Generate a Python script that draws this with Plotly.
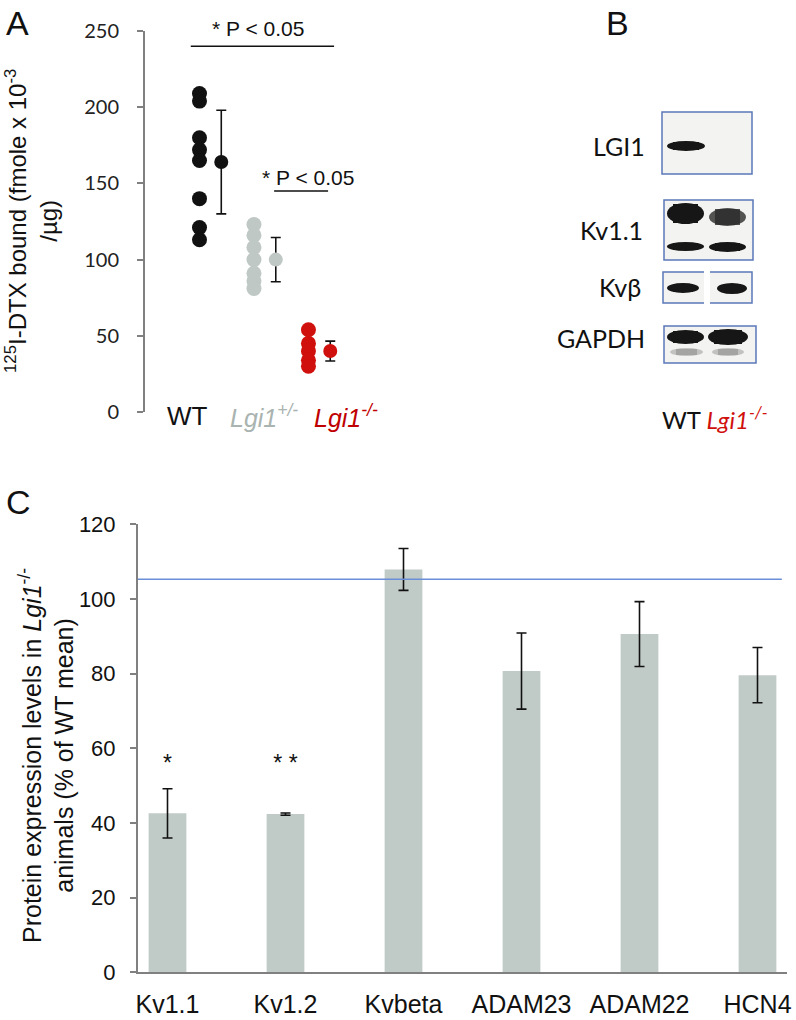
import plotly.graph_objects as go

# ---------------- Panel A data ----------------
groups = ["WT", "Lgi1+/-", "Lgi1-/-"]
wt_vals = [209, 204, 180, 172, 165, 140, 121, 113]
het_vals = [123, 116, 108, 100, 91, 86, 81]
ko_vals = [54, 45, 40, 34, 30]
group_means = [164, 100, 40]
group_sd = [34, 14.5, 6.5]
group_colors = ["#111111", "#bfc8c5", "#d0100c"]
a_ticks = [0, 50, 100, 150, 200, 250]

# ---------------- Panel C data ----------------
proteins = ["Kv1.1", "Kv1.2", "Kvbeta", "ADAM23", "ADAM22", "HCN4"]
levels = [42.6, 42.4, 107.9, 80.7, 90.6, 79.6]
level_err = [6.6, 0.3, 5.6, 10.2, 8.7, 7.4]
signif = ["*", "* *", "", "", "", ""]
signif_y = 55.5
ref_line = 105.3
c_ticks = [0, 20, 40, 60, 80, 100, 120]

W, H = 796, 1020
ARIAL = "Liberation Sans, Arial, sans-serif"
CAL = "Lato, Carlito, Calibri, sans-serif"

fig = go.Figure()

# Panel A scatter points
for i, vals in enumerate([wt_vals, het_vals, ko_vals]):
    fig.add_trace(go.Scatter(
        x=[i + 1] * len(vals), y=vals, mode="markers",
        marker=dict(size=15, color=group_colors[i]),
        xaxis="x", yaxis="y", showlegend=False, hoverinfo="y"))
    fig.add_trace(go.Scatter(
        x=[i + 1.4], y=[group_means[i]], mode="markers",
        marker=dict(size=14, color=group_colors[i]),
        error_y=dict(type="data", array=[group_sd[i]], color="#111111",
                     thickness=1.6, width=5),
        xaxis="x", yaxis="y", showlegend=False, hoverinfo="y"))

# Panel C bars
fig.add_trace(go.Bar(
    x=proteins, y=levels, width=0.32, marker=dict(color="#c0cac7", line=dict(width=0)),
    error_y=dict(type="data", array=level_err, color="#111111", thickness=1.6, width=5),
    xaxis="x2", yaxis="y2", showlegend=False))
sig_x = [p for p, s in zip(proteins, signif) if s]
sig_t = [s for s in signif if s]
fig.add_trace(go.Scatter(
    x=sig_x, y=[signif_y] * len(sig_x), mode="text", text=sig_t,
    textfont=dict(family=ARIAL, size=23, color="#111111"),
    xaxis="x2", yaxis="y2", showlegend=False, hoverinfo="skip"))

shapes = []
# reference line in C
shapes.append(dict(type="line", xref="x2 domain", yref="y2", x0=0, x1=0.992, y0=ref_line, y1=ref_line,
                   line=dict(color="#6a8fd8", width=1.6)))
# significance bars in A
shapes.append(dict(type="line", xref="x", yref="y", x0=0.84, x1=3.47, y0=240, y1=240,
                   line=dict(color="#111111", width=1.6)))
shapes.append(dict(type="line", xref="x", yref="y", x0=2.37, x1=3.36, y0=145, y1=145,
                   line=dict(color="#111111", width=1.6)))

# ---------------- Panel B (western blot schematic, pixel coords) ----------------
BOX = "#5a78b8"
def box(x0, y0, x1, y1):
    shapes.append(dict(type="rect", xref="x3", yref="y3", x0=x0, x1=x1, y0=y0, y1=y1,
                       line=dict(color=BOX, width=1.5), fillcolor="#f3f3f1", layer="above"))
def band(x0, y0, x1, y1, color="#161616", op=1.0):
    shapes.append(dict(type="circle", xref="x3", yref="y3", x0=x0, x1=x1, y0=y0, y1=y1,
                       line=dict(width=0), fillcolor=color, opacity=op, layer="above"))
    shapes.append(dict(type="rect", xref="x3", yref="y3", x0=x0 + 6, x1=x1 - 6, y0=y0 + 1, y1=y1 - 1,
                       line=dict(width=0), fillcolor=color, opacity=op, layer="above"))

box(662, 112, 752, 174)
band(667, 141, 705, 151)

box(664, 200, 753, 260)
band(667, 203, 704, 224)
band(709, 208, 746, 226, color="#2a2a2a", op=0.8)
band(667, 242, 704, 251)
band(709, 242, 746, 252)

box(663, 272, 752, 303)
band(667, 283, 699, 293)
band(717, 283, 747, 294)
shapes.append(dict(type="rect", xref="x3", yref="y3", x0=704, x1=710, y0=271, y1=304,
                   line=dict(width=0), fillcolor="white", layer="above"))

box(664, 326, 756, 363)
band(667, 330, 704, 344)
band(708, 329, 748, 345)
band(670, 348, 703, 356, color="#777777", op=0.4)
band(712, 348, 744, 356, color="#777777", op=0.4)

annotations = []
def ann(text, x, y, size, family=ARIAL, color="#111111", xanchor="center", angle=0):
    annotations.append(dict(text=text, x=x, y=y, xref="x3", yref="y3", showarrow=False,
                            font=dict(family=family, size=size, color=color),
                            xanchor=xanchor, yanchor="middle", textangle=angle))

ann("A", 17, 23, 34)
ann("B", 617, 23, 34)
ann("C", 18, 502, 34)

ann("LGI1", 647, 146, 25, family=CAL, xanchor="right")
ann("Kv1.1", 645, 230, 25, family=CAL, xanchor="right")
ann("Kvβ", 643, 287, 25, family=CAL, xanchor="right")
ann("GAPDH", 647, 338, 25, family=CAL, xanchor="right")
ann("WT <span style='color:#d0100c'><i>Lgi1<sup>-/-</sup></i></span>", 660, 418, 24, family=CAL, xanchor="left")

# panel A labels
ann("WT", 187, 416, 26)
ann("<i>Lgi1<sup>+/-</sup></i>", 264, 416, 25, color="#a9b3b0")
ann("<i>Lgi1<sup>-/-</sup></i>", 346, 416, 25, color="#c00000")
ann("<sup>125</sup>I-DTX bound (fmole x 10<sup>-3</sup><br>/µg)", 31, 221, 24, angle=-90)
ann("Protein expression levels in <i>Lgi1</i><sup>-/-</sup><br>animals (% of WT mean)", 46, 756, 25, angle=-90)

# significance texts
ann("* P < 0.05", 258, 28, 21)
ann("* P < 0.05", 308, 177, 21)

def px_x(a, b):
    return [a / W, b / W]
def px_y(top, bottom):
    return [1 - bottom / H, 1 - top / H]

fig.update_layout(
    width=W, height=H, margin=dict(l=0, r=0, t=0, b=0, autoexpand=False),
    paper_bgcolor="white", plot_bgcolor="rgba(0,0,0,0)",
    shapes=shapes, annotations=annotations,
    xaxis=dict(domain=px_x(145, 357.5), range=[0, 3.9], visible=False, automargin=False),
    yaxis=dict(domain=px_y(31, 412), range=[0, 250], tickvals=a_ticks, automargin=False,
               showline=True, linecolor="#808080", linewidth=2, ticks="outside",
               ticklen=6, tickcolor="#808080", tickwidth=2, showgrid=False, zeroline=False,
               tickfont=dict(family=CAL, size=20, color="#222222"), ticklabelstandoff=14),
    xaxis2=dict(domain=px_x(138, 787), range=[-0.25, 5.25], anchor="y2", automargin=False,
                showline=True, linecolor="#808080", linewidth=2, ticks="",
                tickfont=dict(family=ARIAL, size=25, color="#111111"), ticklabelstandoff=9,
                showgrid=False, zeroline=False),
    yaxis2=dict(domain=px_y(524.3, 972.4), range=[0, 120], tickvals=c_ticks, anchor="x2",
                automargin=False,
                showline=True, linecolor="#808080", linewidth=2, ticks="outside",
                ticklen=6, tickcolor="#808080", tickwidth=2, showgrid=False, zeroline=False,
                tickfont=dict(family=ARIAL, size=22, color="#111111"), ticklabelstandoff=10),
    xaxis3=dict(domain=[0, 1], range=[0, W], visible=False, anchor="y3", fixedrange=True,
                automargin=False),
    yaxis3=dict(domain=[0, 1], range=[H, 0], visible=False, anchor="x3", fixedrange=True,
                automargin=False),
)

fig.write_html("out.html", config={"displayModeBar": False},
               post_script="document.body.style.margin='0';document.body.style.overflow='hidden';")
